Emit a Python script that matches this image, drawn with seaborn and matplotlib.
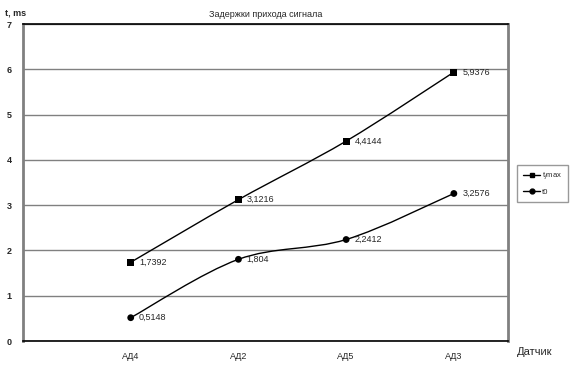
import matplotlib
matplotlib.use("Agg")
import matplotlib.pyplot as plt
from matplotlib.path import Path
from matplotlib.patches import PathPatch
from matplotlib.lines import Line2D
import seaborn as sns
import pandas as pd

sensors = ["АД4", "АД2", "АД5", "АД3"]
tj_max = [1.7392, 3.1216, 4.4144, 5.9376]
t0 = [0.5148, 1.804, 2.2412, 3.2576]
series_names = ["t$_j$max", "t0"]

sns.set_style("white")
plt.rcParams["font.family"] = ["Liberation Sans", "DejaVu Sans"]


def smooth_path(xs, ys):
    # Excel-style smoothed line: cubic bezier through the points
    verts = [(xs[0], ys[0])]
    codes = [Path.MOVETO]
    n = len(xs)
    for i in range(n - 1):
        p0 = (xs[max(i - 1, 0)], ys[max(i - 1, 0)])
        p1 = (xs[i], ys[i])
        p2 = (xs[i + 1], ys[i + 1])
        p3 = (xs[min(i + 2, n - 1)], ys[min(i + 2, n - 1)])
        c1 = (p1[0] + (p2[0] - p0[0]) / 6, p1[1] + (p2[1] - p0[1]) / 6)
        c2 = (p2[0] - (p3[0] - p1[0]) / 6, p2[1] - (p3[1] - p1[1]) / 6)
        verts += [c1, c2, p2]
        codes += [Path.CURVE4] * 3
    return Path(verts, codes)


fig = plt.figure(figsize=(5.75, 3.67), dpi=100)
ax = fig.add_axes([0.040, 0.0708, 0.843, 0.8638])

xpos = list(range(1, len(sensors) + 1))
df = pd.DataFrame({
    "x": xpos * 2,
    "y": tj_max + t0,
    "series": [series_names[0]] * 4 + [series_names[1]] * 4,
})

for vals in (tj_max, t0):
    ax.add_patch(PathPatch(smooth_path(xpos, vals), facecolor="none",
                           edgecolor="black", lw=1, zorder=3))

sns.scatterplot(data=df, x="x", y="y", style="series",
                markers={series_names[0]: "s", series_names[1]: "o"},
                color="black", s=24, edgecolor="black", linewidth=0,
                legend=False, ax=ax, zorder=4)

for vals in (tj_max, t0):
    for x, v in zip(xpos, vals):
        ax.annotate(f"{v:g}".replace(".", ","), (x, v), xytext=(6, 0),
                    textcoords="offset points", va="center", ha="left",
                    fontsize=6.5)

ax.set_xlim(0, 4.5)
ax.set_ylim(0, 7)
ax.set_yticks(range(0, 8))
ax.set_xticks(xpos)
ax.set_xticklabels(sensors, fontsize=6.5)
ax.tick_params(axis="x", length=0, pad=8)
ax.tick_params(axis="y", length=3, width=1, color="#808080", labelsize=6.5, pad=5)
for lab in ax.get_yticklabels():
    lab.set_fontweight("bold")
ax.set_xlabel("")
ax.set_ylabel("")
ax.yaxis.grid(True, color="#808080", lw=1)
ax.set_axisbelow(True)

ax.spines["left"].set_color("#808080")
ax.spines["left"].set_linewidth(2)
ax.spines["right"].set_color("#808080")
ax.spines["right"].set_linewidth(2)
ax.spines["top"].set_color("black")
ax.spines["top"].set_linewidth(1.2)
ax.spines["bottom"].set_color("black")
ax.spines["bottom"].set_linewidth(1.2)

ax.set_title("Задержки прихода сигнала", fontsize=6.5, pad=5)
fig.text(0.008, 0.965, "t, ms", fontsize=6.5, fontweight="bold", ha="left", va="center")
fig.text(0.93, 0.04, "Датчик", fontsize=8, ha="center", va="center")

handles = [
    Line2D([], [], color="black", lw=1, marker="s", markersize=3.5),
    Line2D([], [], color="black", lw=1, marker="o", markersize=3.5),
]
leg = fig.legend(handles, series_names, loc="upper left",
                 bbox_to_anchor=(0.893, 0.562), fontsize=5.5, frameon=True,
                 fancybox=False, handlelength=2.2, handletextpad=0.2,
                 borderpad=0.8, labelspacing=0.9)
leg.get_frame().set_edgecolor("#808080")
leg.get_frame().set_linewidth(1)

fig.savefig("out.png", dpi=100)
